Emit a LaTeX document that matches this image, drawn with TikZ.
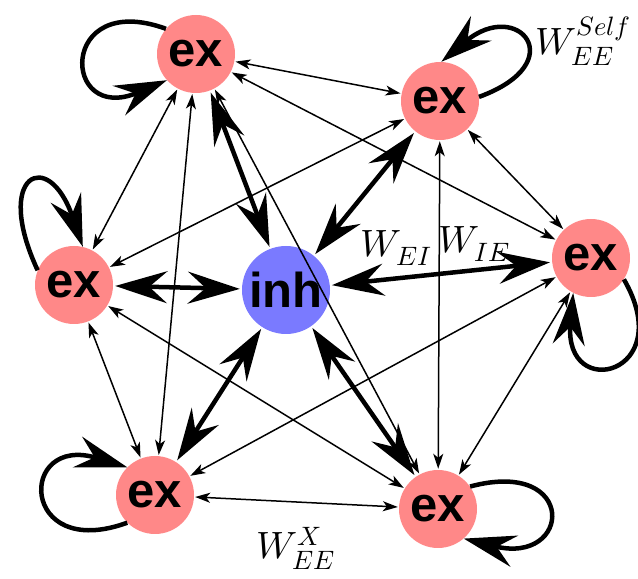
\documentclass[tikz,border=0pt]{standalone}
\usepackage{fontspec}
\usepackage{unicode-math}
\newfontfamily\nodefont{Liberation Sans}
\usetikzlibrary{arrows.meta}
\definecolor{exred}{RGB}{255,136,136}
\definecolor{inhblue}{RGB}{122,122,255}
\begin{document}
\begin{tikzpicture}[x=1pt,y=1pt,
    ex/.style={circle,fill=exred,inner sep=0pt,minimum size=78pt,font=\nodefont\bfseries\fontsize{49}{50}\selectfont},
    inhnode/.style={circle,fill=inhblue,inner sep=0pt,minimum size=88pt,font=\nodefont\bfseries\fontsize{49}{50}\selectfont},
    exlink/.style={line width=1.5pt,{Stealth[length=15pt,width=10pt,inset=4pt]}-{Stealth[length=15pt,width=10pt,inset=4pt]},shorten <=1pt,shorten >=1pt},
    inhlink/.style={line width=4.5pt,{Stealth[length=52pt,width=32pt,inset=18pt]}-{Stealth[length=52pt,width=32pt,inset=18pt]},shorten <=2pt,shorten >=2pt},
    selfloop/.style={line width=4.5pt,-{Stealth[length=52pt,width=32pt,inset=18pt]}},
    lab/.style={inner sep=0pt,font=\fontsize{38}{40}\selectfont}]
  \useasboundingbox (0,0) rectangle (638,579);
  % cac nut
  \node[ex] (exA) at (196,525) {ex};
  \node[ex] (exB) at (440,478) {ex};
  \node[ex] (exC) at (591,321) {ex};
  \node[ex] (exD) at (74,294) {ex};
  \node[ex] (exE) at (155,84) {ex};
  \node[ex] (exF) at (438,70) {ex};
  \node[inhnode] (inh) at (286,289) {inh};
  % ex -- ex
  \foreach \a/\b in {exA/exB,exA/exC,exA/exD,exA/exE,exA/exF,exB/exC,exB/exD,exB/exF,exC/exE,exC/exF,exD/exE,exD/exF,exE/exF}
    \draw[exlink] (\a) -- (\b);
  % ex -- inh
  \foreach \a in {exA,exB,exC,exD,exE,exF}
    \draw[inhlink] (\a) -- (inh);
  % tu lien ket
  \draw[selfloop] (exA.140) .. controls +(160:115) and +(203:115) .. (exA.222);
  \draw[selfloop] (exB.6) .. controls +(20:100) and +(40:100) .. (exB.88);
  \draw[selfloop] (exC.327) .. controls +(300:110) and +(265:110) .. (exC.243);
  \draw[selfloop] (exD.158) .. controls +(115:106) and +(109:106) .. (exD.77);
  \draw[selfloop] (exE.225) .. controls +(200:115) and +(163:115) .. (exE.135);
  \draw[selfloop] (exF.35) .. controls +(15:112) and +(346:112) .. (exF.311);
  % nhan
  \node[lab] (wei) at (396,331) {$W_{EI}$};
  \node[lab] (wie) at (474,335) {$W_{IE}$};
  \node[lab] (wself) at (583,538) {$W_{EE}^{Self}$};
  \node[lab] (wx) at (296,31) {$W_{EE}^{X}$};
\end{tikzpicture}
\end{document}
